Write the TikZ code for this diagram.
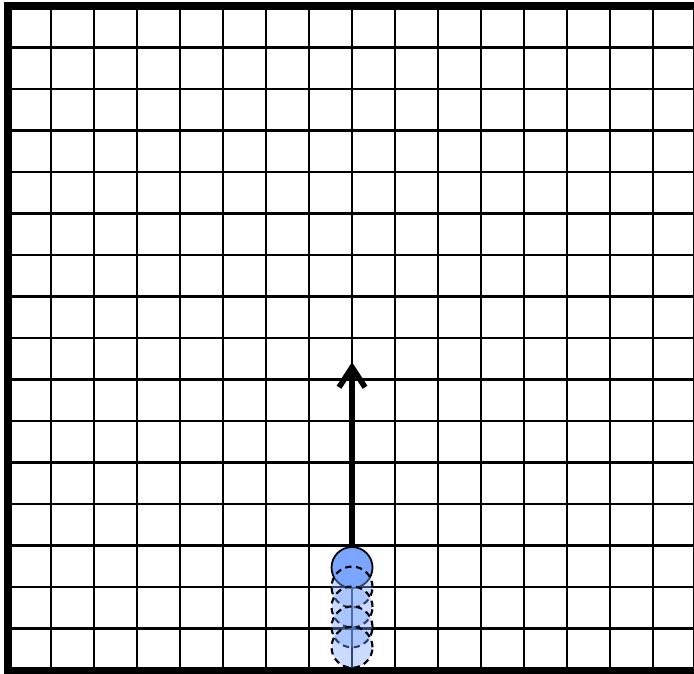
\documentclass[tikz,border=0pt]{standalone}
\usepackage{tikz}
\usetikzlibrary{arrows.meta}
\definecolor{ballblue}{RGB}{122,166,255}
\tikzset{
  ball/.style={circle,draw=black,line width=0.5pt,fill=ballblue,minimum size=0.41cm,inner sep=0pt},
  ghost/.style={circle,draw=black,dash pattern=on 1.8pt off 1.3pt,line width=0.6pt,fill=ballblue,fill opacity=0.4,minimum size=0.41cm,inner sep=0pt},
}

\begin{document}
\begin{tikzpicture}[x=0.43cm,y=0.415cm]
			      % Bounding box
			      \useasboundingbox (-0.186,-0.072) rectangle (15.953,16.145);
			      \clip (-0.186,-0.072) rectangle (15.953,16.145);
			      % Coordinates
			      \coordinate (O) at (0,0);
			      \coordinate (T) at (16,16);
			      \coordinate (tip) at (8,7.42);
			      % Grid
			      \foreach \k in {1,...,15} {
					      \draw[line width=0.6pt] (\k,0) -- (\k,16);
					      \draw[line width=0.6pt] (0,\k) -- (16,\k);
				      }
			      \draw[line width=2pt] (O) rectangle (T);
			      % Ball and push
			      \node[ball] (ball) at (8,2.47) {};
			      \draw[line width=1.6pt,-{Straight Barb[length=2mm,width=2.6mm]}] (ball.north) -- (tip);
			      % Earlier positions
			      \foreach \i/\y in {1/2.0, 2/1.52, 3/1.04, 4/0.55} {
					      \node[ghost] (ghost\i) at (8,\y) {};
				      }
		      \end{tikzpicture}
\end{document}
